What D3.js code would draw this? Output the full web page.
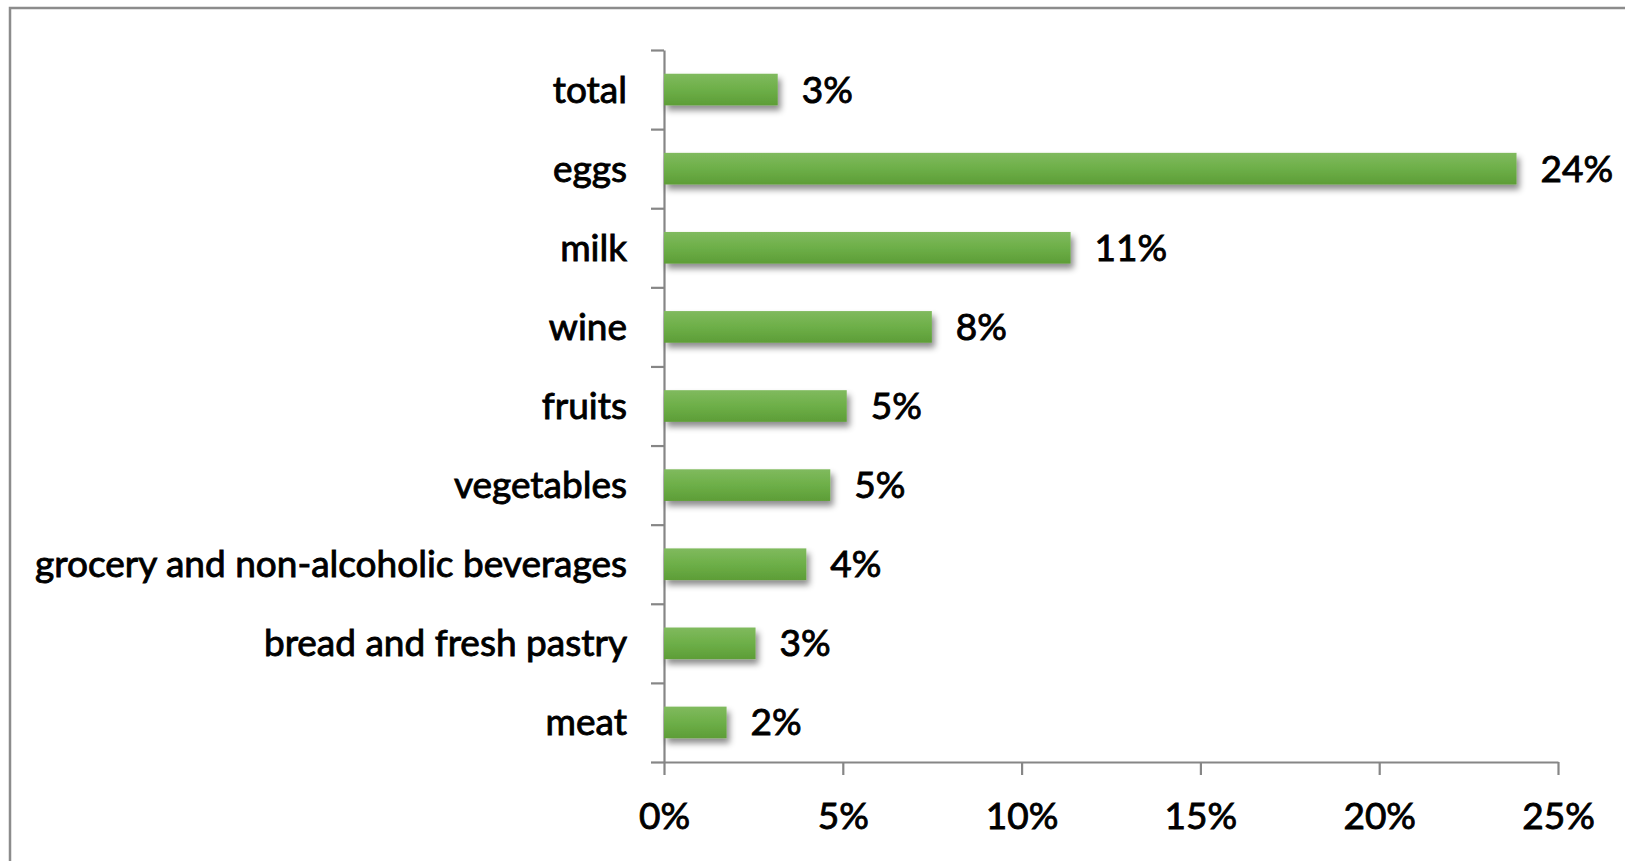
<!DOCTYPE html>
<html>
<head>
<meta charset="utf-8">
<script src="https://cdn.jsdelivr.net/npm/d3@7"></script>
<style>
  body { margin: 0; background: #fff; }
  text { font-family: Lato, "Open Sans", sans-serif; fill: #000; stroke: #000; stroke-width: 0.9px; }
</style>
</head>
<body>
<div id="chart"></div>
<script>
// categories top to bottom, and share values in percent
var categories = ["total", "eggs", "milk", "wine", "fruits", "vegetables",
  "grocery and non-alcoholic beverages", "bread and fresh pastry", "meat"];
var values = [3.18, 23.84, 11.37, 7.49, 5.11, 4.65, 3.98, 2.56, 1.75];
var valueLabels = ["3%", "24%", "11%", "8%", "5%", "5%", "4%", "3%", "2%"];
var xTicks = [0, 5, 10, 15, 20, 25];

var w = 1625, h = 861;
var plotLeft = 664, plotRight = 1558, plotTop = 50, plotBottom = 762;
var fontSize = "37px";

var svg = d3.select("#chart").append("svg")
  .attr("width", w)
  .attr("height", h);

var defs = svg.append("defs");
var grad = defs.append("linearGradient")
  .attr("id", "barGrad")
  .attr("x1", 0).attr("y1", 0).attr("x2", 0).attr("y2", 1);
grad.append("stop").attr("offset", "0%").attr("stop-color", "#80ba5e");
grad.append("stop").attr("offset", "50%").attr("stop-color", "#6daf48");
grad.append("stop").attr("offset", "100%").attr("stop-color", "#5d9d37");

var shadow = defs.append("filter")
  .attr("id", "shadow")
  .attr("x", "-10%").attr("y", "-30%")
  .attr("width", "130%").attr("height", "180%");
shadow.append("feDropShadow")
  .attr("dx", 3).attr("dy", 5)
  .attr("stdDeviation", 3)
  .attr("flood-color", "#000")
  .attr("flood-opacity", 0.45);

// outer frame (only top and left edges visible in the picture)
svg.append("path")
  .attr("d", "M10," + h + "V8H" + w)
  .attr("fill", "none")
  .attr("stroke", "#8c8c8c")
  .attr("stroke-width", 2.5);

var x = d3.scaleLinear()
  .domain([0, 25])
  .range([plotLeft, plotRight]);

var y = d3.scaleBand()
  .domain(categories)
  .range([plotTop, plotBottom])
  .paddingInner(0.6)
  .paddingOuter(0.3);

// y axis: ticks at the category boundaries
var yEdges = d3.scaleLinear()
  .domain([0, categories.length])
  .range([plotTop, plotBottom]);

var yaxis = svg.append("g")
  .attr("transform", "translate(" + plotLeft + ",0)")
  .call(d3.axisLeft(yEdges)
    .tickValues(d3.range(categories.length + 1))
    .tickSize(13)
    .tickSizeOuter(0)
    .tickFormat(""));

var xaxis = svg.append("g")
  .attr("transform", "translate(0," + plotBottom + ")")
  .call(d3.axisBottom(x)
    .tickValues(xTicks)
    .tickSize(13)
    .tickSizeOuter(0)
    .tickPadding(28)
    .tickFormat(function(d) { return d + "%"; }));

svg.selectAll(".domain, .tick line")
  .attr("stroke", "#868686")
  .attr("stroke-width", 2.2);

xaxis.selectAll("text")
  .style("font-size", fontSize)
  .style("font-family", "Lato, sans-serif")
  .attr("fill", "#000")
  .attr("dy", "0.71em");

// category labels
svg.selectAll("text.cat")
  .data(categories)
  .enter().append("text")
  .attr("class", "cat")
  .attr("x", 627)
  .attr("y", function(d) { return y(d) + y.bandwidth() / 2; })
  .attr("dy", "0.35em")
  .attr("text-anchor", "end")
  .style("font-size", fontSize)
  .text(function(d) { return d; });

// bars
svg.selectAll("rect.bar")
  .data(values)
  .enter().append("rect")
  .attr("class", "bar")
  .attr("x", x(0))
  .attr("y", function(d, i) { return y(categories[i]); })
  .attr("width", function(d) { return x(d) - x(0); })
  .attr("height", y.bandwidth())
  .attr("fill", "url(#barGrad)")
  .attr("filter", "url(#shadow)");

// value labels
svg.selectAll("text.val")
  .data(values)
  .enter().append("text")
  .attr("class", "val")
  .attr("x", function(d) { return x(d) + 24; })
  .attr("y", function(d, i) { return y(categories[i]) + y.bandwidth() / 2; })
  .attr("dy", "0.35em")
  .style("font-size", fontSize)
  .text(function(d, i) { return valueLabels[i]; });
</script>
</body>
</html>
